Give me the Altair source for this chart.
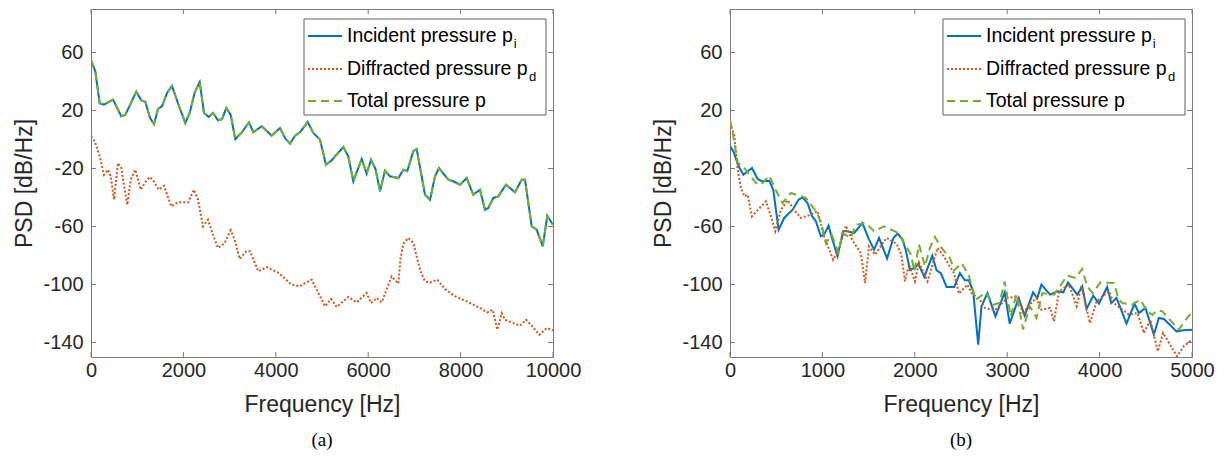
import altair as alt
import pandas as pd

# ---------------- Panel (a) ----------------
a_freq_incident = [0, 93, 188, 281, 476, 656, 742, 980, 1089, 1175, 1277, 1364, 1450, 1537, 1652, 1753,
                   1883, 2041, 2136, 2245, 2353, 2446, 2548, 2641, 2749, 2835, 2929, 3024, 3123, 3253,
                   3420, 3513, 3695, 3911, 4091, 4199, 4307, 4416, 4524, 4690, 4812, 4957, 5087, 5210,
                   5461, 5569, 5678, 5859, 5967, 6061, 6162, 6255, 6364, 6472, 6652, 6760, 6846, 6976,
                   7050, 7229, 7338, 7446, 7532, 7734, 7842, 7987, 8132, 8275, 8420, 8528, 8600, 8708,
                   8816, 8983, 9177, 9322, 9394, 9539, 9647, 9777, 9877, 10000]
a_psd_incident = [55, 47, 25, 24, 27.5, 16, 17, 33, 27, 26, 15, 10.7, 21, 23, 32.5, 37,
                  25, 11.4, 18.3, 32.5, 39.6, 18.3, 15.5, 18.3, 13.2, 14, 21.7, 17, 0.3, 4.5,
                  11.8, 5.0, 9.1, 2.6, 7.9, 1.0, -2.9, 2.6, 5.0, 12.1, 4.5, -0.1, -17.4, -14.3,
                  -5.2, -11.6, -28.8, -13.4, -23.6, -13.9, -20.8, -35.7, -21.4, -25.4, -26.6, -20.8, -21.9, -8.1,
                  -6.6, -38.1, -41.5, -25.4, -19.7, -27.7, -28.8, -31.2, -26.6, -38.1, -34.6, -48.4, -47.2, -40.3,
                  -39.2, -31.2, -36.4, -27.7, -27.7, -59.9, -62.2, -73.7, -52.6, -58.8]
a_freq_diffracted = [0, 80, 188, 281, 368, 426, 498, 584, 656, 729, 786, 859, 959, 1076, 1162, 1270,
                     1342, 1465, 1580, 1738, 1883, 2100, 2229, 2316, 2424, 2532, 2641, 2749, 2893, 3024,
                     3110, 3218, 3361, 3442, 3622, 3803, 4055, 4344, 4524, 4632, 4777, 4885, 5065, 5195,
                     5318, 5569, 5751, 5967, 6061, 6184, 6292, 6508, 6652, 6700, 6760, 6868, 6976, 7121,
                     7229, 7338, 7496, 7662, 7879, 8132, 8420, 8578, 8695, 8794, 8890, 8961, 9141, 9286,
                     9416, 9539, 9704, 9864, 10000]
a_psd_diffracted = [2.2, -1.2, -11.6, -24.3, -20.8, -25.4, -41.5, -16.2, -19.7, -34.6, -45, -27.7, -20.8, -34.6, -30, -25.9,
                    -28, -34.6, -31.9, -46.1, -43.3, -43.3, -34.6, -41.5, -59.9, -55.3, -65.7, -74.8, -71.4, -62.6,
                    -69.1, -82.4, -77.1, -77.1, -90.9, -88, -92, -100.1, -101.2, -99, -96.7, -103.6, -115, -110,
                    -115.5, -108.6, -112.3, -105.9, -112.8, -109.3, -112.3, -94.4, -99.4, -82, -72, -67.9, -71.4, -89.8,
                    -97.9, -98.6, -96.7, -103.1, -108.1, -111.6, -116.2, -119.2, -117.4, -131.2, -119.7, -124.3, -126.6, -128.4,
                    -124.3, -128.4, -134.7, -130, -131.6]
# in panel (a) the total pressure coincides with the incident pressure
a_freq_total = list(a_freq_incident)
a_psd_total = list(a_psd_incident)

# ---------------- Panel (b) ----------------
b_freq_incident = [0, 36, 94, 144, 238, 299, 346, 425, 468, 526, 587, 677, 742, 785, 839, 886,
                   929, 983, 1019, 1066, 1109, 1163, 1224, 1271, 1343, 1433, 1505, 1559, 1613, 1700,
                   1768, 1814, 1865, 1901, 1947, 2001, 2038, 2103, 2189, 2236, 2282, 2344, 2427, 2488,
                   2541, 2585, 2632, 2686, 2722, 2786, 2873, 2973, 3027, 3124, 3189, 3280, 3326, 3370,
                   3464, 3542, 3607, 3658, 3758, 3812, 3859, 3931, 3993, 4082, 4126, 4183, 4291, 4378,
                   4425, 4496, 4587, 4641, 4695, 4760, 4831, 4911, 5000]
b_psd_incident = [-4.7, -8.1, -18.5, -24.3, -19.7, -27.2, -28.8, -28.4, -34.6, -62.2, -54.1, -48.4, -41.5, -39.9, -43.8, -52.6,
                  -56.4, -66.8, -65.6, -59.4, -69.1, -80.6, -63.3, -63.3, -64.5, -57.6, -69.1, -76, -67.9, -82,
                  -67.9, -64.9, -68.6, -76, -89.8, -88.6, -85.7, -94.8, -80.1, -90.2, -92.1, -101.7, -101.7, -92.1,
                  -97.1, -97.1, -104.7, -141.5, -115, -105.9, -121.9, -105.4, -127, -109.3, -121.5, -105.4, -109.3, -100.1,
                  -107, -104.7, -105.4, -98.5, -107, -101.2, -116.9, -107.7, -113.2, -101.7, -112.8, -109.3, -127, -113.2,
                  -119.7, -116.2, -134.6, -123.1, -123.8, -127.7, -132.3, -131.6, -131.2]
b_freq_diffracted = [0, 46, 83, 119, 155, 191, 238, 389, 443, 490, 551, 623, 706, 767, 875, 947,
                     1019, 1116, 1181, 1253, 1325, 1415, 1462, 1505, 1570, 1642, 1696, 1804, 1854, 1894,
                     1937, 2001, 2045, 2138, 2246, 2308, 2427, 2477, 2570, 2614, 2704, 2758, 2866, 2938,
                     3002, 3118, 3172, 3226, 3316, 3370, 3464, 3507, 3561, 3669, 3752, 3802, 3896, 3967,
                     4101, 4154, 4316, 4410, 4478, 4550, 4630, 4687, 4838, 4911, 5000]
b_psd_diffracted = [11.4, 3.3, -20.8, -33.4, -39.2, -38.1, -53, -42.6, -53, -63.3, -48.4, -41.9, -49.5, -54.1, -51.9, -49.5,
                    -66.8, -82.9, -76, -59.4, -69.5, -78.3, -99, -73.7, -79.4, -72.5, -67.9, -72, -79.4, -97.8,
                    -86.3, -97.8, -84.7, -97.8, -74.8, -80.1, -92.5, -106.3, -100.1, -105.9, -110.5, -116.2, -117.8, -113.2,
                    -109.3, -108.1, -120.8, -115, -109.3, -117.4, -116.2, -125.4, -104.7, -100.1, -115, -101.2, -126.6, -111.6,
                    -104.7, -112.8, -120.8, -119.7, -133.4, -124.3, -146.1, -133.4, -149.5, -142.6, -138]
b_freq_total = [0, 36, 83, 137, 281, 335, 425, 497, 569, 659, 821, 922, 983, 1037, 1102, 1174,
                1217, 1307, 1361, 1469, 1559, 1667, 1822, 1894, 1959, 1995, 2045, 2082, 2110, 2164,
                2218, 2282, 2380, 2427, 2506, 2585, 2657, 2772, 2848, 2916, 2973, 3038, 3100, 3172,
                3244, 3316, 3380, 3507, 3650, 3740, 3812, 3866, 3924, 4010, 4154, 4208, 4248, 4352,
                4442, 4514, 4572, 4622, 4680, 4766, 4857, 4965, 5000]
b_psd_total = [13.7, 2.2, -16.2, -18.1, -30, -31.2, -25, -35, -43.8, -36.9, -40.3, -48.8, -56.4, -71.4, -65.7, -78.3,
               -64.5, -67.9, -58.8, -57.6, -63.3, -59.9, -64.5, -72.5, -79.4, -90.9, -72.5, -81, -87.4, -74.8,
               -67.2, -74.1, -81.7, -90.2, -85.2, -93.9, -110.5, -105.4, -114, -112.8, -98, -121.9, -107, -131,
               -115, -123.1, -105.9, -107, -93.9, -95.5, -89.3, -101.2, -105.9, -98.5, -99, -110.5, -112.8, -113.9,
               -110.5, -118.5, -120.8, -117.8, -118.5, -124.7, -131.2, -121.5, -120]

# ---------------- ticks / labels ----------------
a_x_ticks = [0, 2000, 4000, 6000, 8000, 10000]
b_x_ticks = [0, 1000, 2000, 3000, 4000, 5000]
y_ticks = [-140, -100, -60, -20, 20, 60]
series_names = ["Incident pressure p", "Diffracted pressure p", "Total pressure p"]
series_subs = ["i", "d", ""]

# ---------------- styling ----------------
W, H = 462, 348
FONT = "Liberation Sans"
AX = "#7a7a7a"
TXT = "#262626"
COLORS = ["#0072BD", "#D95319", "#77AC30"]
DASHES = [None, [2, 2], [8, 5]]
LEG_FS = 19.5

ARIAL = {" ": 278, "D": 722, "I": 278, "T": 611, "a": 556, "c": 500, "d": 556, "e": 556,
         "f": 278, "i": 222, "l": 222, "n": 556, "o": 556, "p": 556, "r": 333, "s": 500,
         "t": 278, "u": 556}


def text_width(s, size):
    return sum(ARIAL.get(ch, 556) for ch in s) / 1000.0 * size


def panel(curves, xmax, xticks, letter):
    xs = alt.Scale(domain=[0, xmax], nice=False, zero=False)
    ys = alt.Scale(domain=[-150, 90], nice=False, zero=False)
    xaxis = alt.Axis(values=xticks, title="Frequency [Hz]", ticks=False, domain=False, grid=False,
                     labelExpr="'' + datum.value",
                     labelFont=FONT, labelFontSize=20, labelColor=TXT, labelPadding=3,
                     labelFlush=False, labelOverlap=False,
                     titleFont=FONT, titleFontSize=23, titleFontWeight="normal", titleColor=TXT,
                     titlePadding=13)
    yaxis = alt.Axis(values=y_ticks, title="PSD [dB/Hz]", ticks=False, domain=False, grid=False,
                     labelExpr="'' + datum.value",
                     labelFont=FONT, labelFontSize=20, labelColor=TXT, labelPadding=8,
                     labelFlush=False, labelOverlap=False,
                     titleFont=FONT, titleFontSize=23, titleFontWeight="normal", titleColor=TXT,
                     titlePadding=6)
    layers = []
    for (f, v), color, dash in zip(curves, COLORS, DASHES):
        df = pd.DataFrame({"f": f, "v": v})
        kw = dict(color=color, strokeWidth=2, clip=True)
        if dash:
            kw["strokeDash"] = dash
        layers.append(alt.Chart(df).mark_line(**kw).encode(
            x=alt.X("f:Q", scale=xs, axis=xaxis), y=alt.Y("v:Q", scale=ys, axis=yaxis)))
    xt = pd.DataFrame({"t": xticks})
    yt = pd.DataFrame({"t": y_ticks})
    for y1, y2 in [(H, H - 5), (0, 5)]:
        layers.append(alt.Chart(xt).mark_rule(color=AX, strokeWidth=1).encode(
            x=alt.X("t:Q", scale=xs, axis=xaxis), y=alt.value(y1), y2=alt.value(y2)))
    for x1, x2 in [(0, 5), (W - 5, W)]:
        layers.append(alt.Chart(yt).mark_rule(color=AX, strokeWidth=1).encode(
            y=alt.Y("t:Q", scale=ys, axis=yaxis), x=alt.value(x1), x2=alt.value(x2)))
    # legend box
    one = pd.DataFrame({"k": [0]})
    layers.append(alt.Chart(one).mark_rect(fill="white", stroke="#606060", strokeWidth=1).encode(
        x=alt.value(213), x2=alt.value(455), y=alt.value(10), y2=alt.value(106)))
    rows = [27, 60, 92]
    for name, sub, color, dash, ry in zip(series_names, series_subs, COLORS, DASHES, rows):
        kw = dict(color=color, strokeWidth=2)
        if dash:
            kw["strokeDash"] = dash
        layers.append(alt.Chart(one).mark_rule(**kw).encode(
            x=alt.value(217), x2=alt.value(251), y=alt.value(ry)))
        layers.append(alt.Chart(pd.DataFrame({"label": [name]})).mark_text(
            align="left", baseline="middle", font=FONT, fontSize=LEG_FS, color="#000000").encode(
            x=alt.value(256), y=alt.value(ry), text="label:N"))
        if sub:
            layers.append(alt.Chart(pd.DataFrame({"label": [sub]})).mark_text(
                align="left", baseline="middle", font=FONT, fontSize=13, color="#000000").encode(
                x=alt.value(256 + text_width(name, LEG_FS) + 1), y=alt.value(ry + 8), text="label:N"))
    return alt.layer(*layers).properties(
        width=W, height=H,
        title=alt.TitleParams(text=letter, orient="bottom", font="Liberation Serif", fontSize=19,
                              fontWeight="normal", color="#000000", offset=15))


left = panel([(a_freq_incident, a_psd_incident), (a_freq_diffracted, a_psd_diffracted),
              (a_freq_total, a_psd_total)], 10000, a_x_ticks, "(a)")
right = panel([(b_freq_incident, b_psd_incident), (b_freq_diffracted, b_psd_diffracted),
               (b_freq_total, b_psd_total)], 5000, b_x_ticks, "(b)")

chart = alt.hconcat(left, right, spacing=177, bounds="flush").properties(
    padding={"left": 5, "top": 0, "right": 0, "bottom": 0}
).configure_view(stroke=AX, strokeWidth=1)

chart.save("out.html", embed_options={"renderer": "svg", "actions": False})
